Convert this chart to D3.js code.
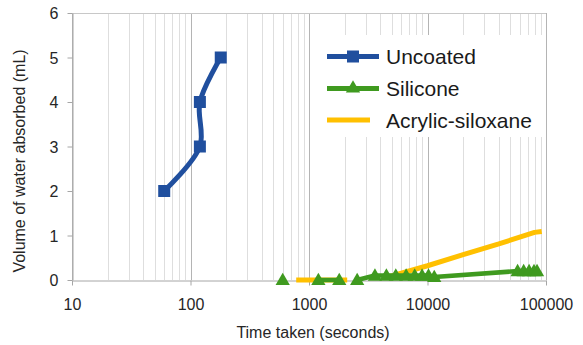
<!DOCTYPE html>
<html>
<head>
<meta charset="utf-8">
<script src="https://cdn.jsdelivr.net/npm/d3@7/dist/d3.min.js"></script>
<style>
  html, body { margin: 0; padding: 0; background: #fff; }
  svg { display: block; font-family: "Liberation Sans", Arial, sans-serif; }
</style>
</head>
<body>
<svg id="chart" width="583" height="345"></svg>
<script>
// Water absorbed over time for three surface treatments (null = no reading)
const uncoatedTime  = [60, 120, 120, 180];
const uncoatedWater = [2, 3, 4, 5];

const siliconeTime  = [600, null, 1200, 1800, null, 2550, 3600, 4500, 5400, 6600, 7800, 9000, 10200, 11400, 57600, 64800, 72000, 79200, 84000];
const siliconeWater = [0,   null, 0,    0,    null, 0,    0.1,  0.1,  0.1,  0.1,  0.1,  0.1,  0.1,   0.07,  0.2,   0.2,   0.2,   0.2,   0.2];

const acrylicTime   = [780, 1200, 1800, 2100, null, 4500, 10000, 20000, 40000, 80000, 92000];
const acrylicWater  = [0,   0,    0,    0,    null, 0.06, 0.32,  0.57,  0.81,  1.07,  1.09];

const seriesNames   = ["Uncoated", "Silicone", "Acrylic-siloxane"];
const seriesColors  = ["#204f9e", "#3f9a1f", "#ffc000"];

const xMajorTicks   = [10, 100, 1000, 10000, 100000];
const yTicks        = [0, 1, 2, 3, 4, 5, 6];
const xTitle        = "Time taken (seconds)";
const yTitle        = "Volume of water absorbed (mL)";

const svg = d3.select("#chart");
const plot = { left: 72, right: 546, top: 13, bottom: 280 };

const x = d3.scaleLog().domain([10, 100000]).range([plot.left, plot.right]);
const y = d3.scaleLinear().domain([0, 6]).range([plot.bottom, plot.top]);

const zip = (ts, vs) => ts.map((t, i) => (t == null ? null : { t, v: vs[i] }));

// Minor gridlines (2..9 within each decade)
const minor = [];
xMajorTicks.slice(0, -1).forEach(d => { for (let k = 2; k <= 9; k++) minor.push(d * k); });

const grid = svg.append("g");
grid.selectAll("line.minor").data(minor).join("line")
  .attr("class", "minor")
  .attr("x1", d => Math.round(x(d)) + 0.5).attr("x2", d => Math.round(x(d)) + 0.5)
  .attr("y1", plot.top).attr("y2", plot.bottom)
  .attr("stroke", "#dedede").attr("stroke-width", 1);
grid.selectAll("line.major").data(xMajorTicks).join("line")
  .attr("class", "major")
  .attr("x1", d => Math.round(x(d)) + 0.5).attr("x2", d => Math.round(x(d)) + 0.5)
  .attr("y1", plot.top).attr("y2", plot.bottom)
  .attr("stroke", "#b4b4b4").attr("stroke-width", 1);
// top border of plot area
grid.append("line")
  .attr("x1", plot.left).attr("x2", plot.right)
  .attr("y1", plot.top + 0.5).attr("y2", plot.top + 0.5)
  .attr("stroke", "#c8c8c8");

// Axes
const xAxis = svg.append("g")
  .attr("transform", `translate(0,${plot.bottom + 0.5})`)
  .call(d3.axisBottom(x).tickValues(xMajorTicks).tickFormat(d3.format("d")).tickSize(5).tickSizeOuter(0));
const yAxis = svg.append("g")
  .attr("transform", `translate(${plot.left + 0.5},0)`)
  .call(d3.axisLeft(y).tickValues(yTicks).tickFormat(d3.format("d")).tickSize(5).tickSizeOuter(0));

[xAxis, yAxis].forEach(a => {
  a.select(".domain").attr("stroke", "#a6a6a6");
  a.selectAll(".tick line").attr("stroke", "#a6a6a6");
  a.selectAll(".tick text").attr("fill", "#262626").attr("font-size", 16)
    .attr("font-family", "Liberation Sans, Arial, sans-serif");
});
xAxis.selectAll(".tick text").attr("dy", null).attr("y", 29);
yAxis.selectAll(".tick text").attr("x", -14).attr("dy", "0.36em");

// Axis titles
svg.append("text")
  .attr("x", 313).attr("y", 338)
  .attr("text-anchor", "middle")
  .attr("font-size", 16).attr("fill", "#262626")
  .text(xTitle);
svg.append("text")
  .attr("transform", `translate(25,161) rotate(-90)`)
  .attr("text-anchor", "middle")
  .attr("font-size", 16).attr("fill", "#262626")
  .text(yTitle);

// Series lines
const lineGen = d3.line()
  .defined(d => d != null)
  .x(d => x(d.t)).y(d => y(d.v));

const acrylic = zip(acrylicTime, acrylicWater);
const silicone = zip(siliconeTime, siliconeWater);
const uncoated = zip(uncoatedTime, uncoatedWater);

const marks = svg.append("g");

marks.append("path")
  .attr("d", lineGen.curve(d3.curveLinear)(acrylic))
  .attr("fill", "none").attr("stroke", seriesColors[2])
  .attr("stroke-width", 5).attr("stroke-linejoin", "round");

marks.append("path")
  .attr("d", lineGen.curve(d3.curveLinear)(silicone))
  .attr("fill", "none").attr("stroke", seriesColors[1])
  .attr("stroke-width", 4.5).attr("stroke-linejoin", "round");

const tri = d3.symbol().type(d3.symbolTriangle).size(88);
marks.selectAll("path.tri").data(silicone.filter(d => d != null)).join("path")
  .attr("class", "tri")
  .attr("transform", d => `translate(${x(d.t)},${y(d.v) + 1})`)
  .attr("d", tri)
  .attr("fill", seriesColors[1]);

marks.append("path")
  .attr("d", lineGen.curve(d3.curveCatmullRom.alpha(0.5))(uncoated))
  .attr("fill", "none").attr("stroke", seriesColors[0])
  .attr("stroke-width", 5).attr("stroke-linejoin", "round");

const sq = 12;
marks.selectAll("rect.sq").data(uncoated).join("rect")
  .attr("class", "sq")
  .attr("x", d => x(d.t) - sq / 2).attr("y", d => y(d.v) - sq / 2)
  .attr("width", sq).attr("height", sq)
  .attr("fill", seriesColors[0]);

// Legend
const legend = svg.append("g");
legend.append("rect")
  .attr("x", 312).attr("y", 35).attr("width", 232).attr("height", 102)
  .attr("fill", "#fff");

const rows = [56.5, 88.5, 120];
seriesNames.forEach((name, i) => {
  const g = legend.append("g").attr("transform", `translate(0,${rows[i]})`);
  const x2 = i === 2 ? 370 : 379;
  g.append("line").attr("x1", 327).attr("x2", x2).attr("y1", 0).attr("y2", 0)
    .attr("stroke", seriesColors[i]).attr("stroke-width", 5);
  if (i === 0) {
    g.append("rect").attr("x", 353 - 6).attr("y", -6).attr("width", 12).attr("height", 12)
      .attr("fill", seriesColors[0]);
  } else if (i === 1) {
    g.append("path").attr("transform", "translate(353,0)").attr("d", tri).attr("fill", seriesColors[1]);
  }
  g.append("text")
    .attr("x", 386).attr("y", 0).attr("dy", "0.36em")
    .attr("font-size", 21).attr("fill", "#1a1a1a")
    .text(name);
});
</script>
</body>
</html>
